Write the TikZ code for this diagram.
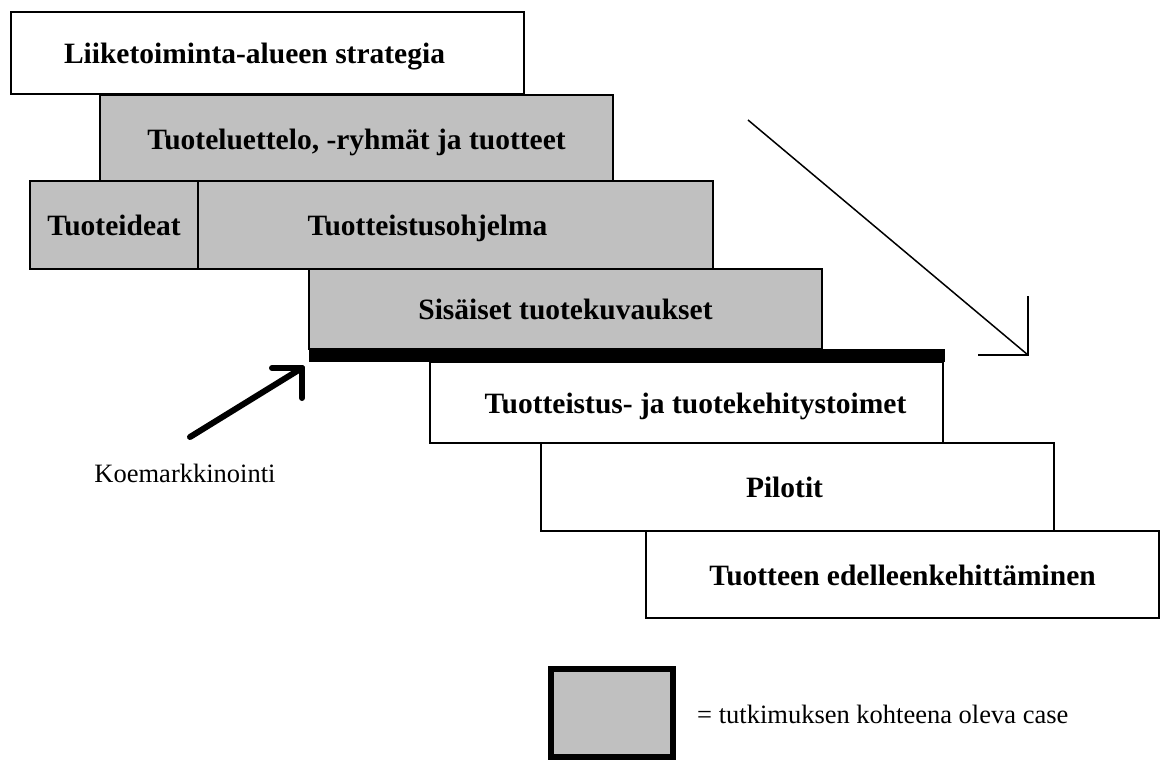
\documentclass[tikz,border=0pt]{standalone}
\usepackage{fontspec}
\setmainfont{Liberation Serif}
\definecolor{casegray}{RGB}{192,192,192}
\begin{document}
\begin{tikzpicture}[x=1pt,y=-1pt,
  box/.style={draw=black, line width=2.5pt, anchor=north west, inner sep=0pt, outer sep=0pt,
    font=\fontsize{29.5}{31}\selectfont\bfseries, text=black, text height=22pt, text depth=1pt},
  graybox/.style={box, fill=casegray},
  whitebox/.style={box, fill=white},
  plain/.style={font=\fontsize{26.5}{29}\selectfont, inner sep=0pt, text=black},
  thickarrow/.style={line width=6pt, line cap=round, line join=round},
  thinline/.style={line width=1.5pt},
  headline/.style={line width=2.5pt}]
\useasboundingbox[fill=white] (0,0) rectangle (1166,760);

% staircase boxes
\node[whitebox, minimum width=513pt, minimum height=82pt] (strat) at (11,12)
  {Liiketoiminta-alueen strategia\hspace*{26pt}};
\node[graybox, minimum width=513pt, minimum height=87pt] (luettelo) at (100,95)
  {Tuoteluettelo, -ryhmät ja tuotteet};
\node[graybox, minimum width=168pt, minimum height=88pt] (ideat) at (30,181)
  {Tuoteideat};
\node[graybox, minimum width=515pt, minimum height=88pt] (ohjelma) at (198,181)
  {Tuotteistusohjelma\hspace*{56pt}};
\node[graybox, minimum width=513pt, minimum height=80pt] (kuvaukset) at (309,269)
  {Sisäiset tuotekuvaukset};
\node[fill=black, anchor=north west, inner sep=0pt, outer sep=0pt,
  minimum width=636pt, minimum height=13pt] (bar) at (309,349) {};
\node[whitebox, minimum width=513pt, minimum height=81pt] (toimet) at (430,362)
  {\hspace*{18pt}Tuotteistus- ja tuotekehitystoimet};
\node[whitebox, minimum width=513pt, minimum height=88pt] (pilotit) at (541,443)
  {Pilotit\hspace*{26pt}};
\node[whitebox, minimum width=513pt, minimum height=87pt] (edelleen) at (646,531)
  {Tuotteen edelleenkehittäminen};

% Koemarkkinointi arrow
\node[plain] (koe) at (185,473) {Koemarkkinointi};
\coordinate (kstart) at (190,437);
\coordinate (ktip) at (302,368);
\draw[thickarrow] (kstart) -- (ktip);
\draw[thickarrow] ([xshift=-30pt]ktip) -- (ktip) -- ([yshift=-30pt]ktip);

% diagonal arrow
\coordinate (dstart) at (748,120);
\coordinate (dtip) at (1028,355);
\draw[thinline] (dstart) -- (dtip);
\draw[headline] ([xshift=-50pt]dtip) -- (dtip) -- ([yshift=59pt]dtip);

% legend
\node[draw=black, line width=6pt, fill=casegray, anchor=north west, inner sep=0pt, outer sep=0pt,
  minimum width=122pt, minimum height=88pt] (legbox) at (551,669) {};
\node[plain, anchor=west] (legtext) at (697,714) {= tutkimuksen kohteena oleva case};
\end{tikzpicture}
\end{document}
